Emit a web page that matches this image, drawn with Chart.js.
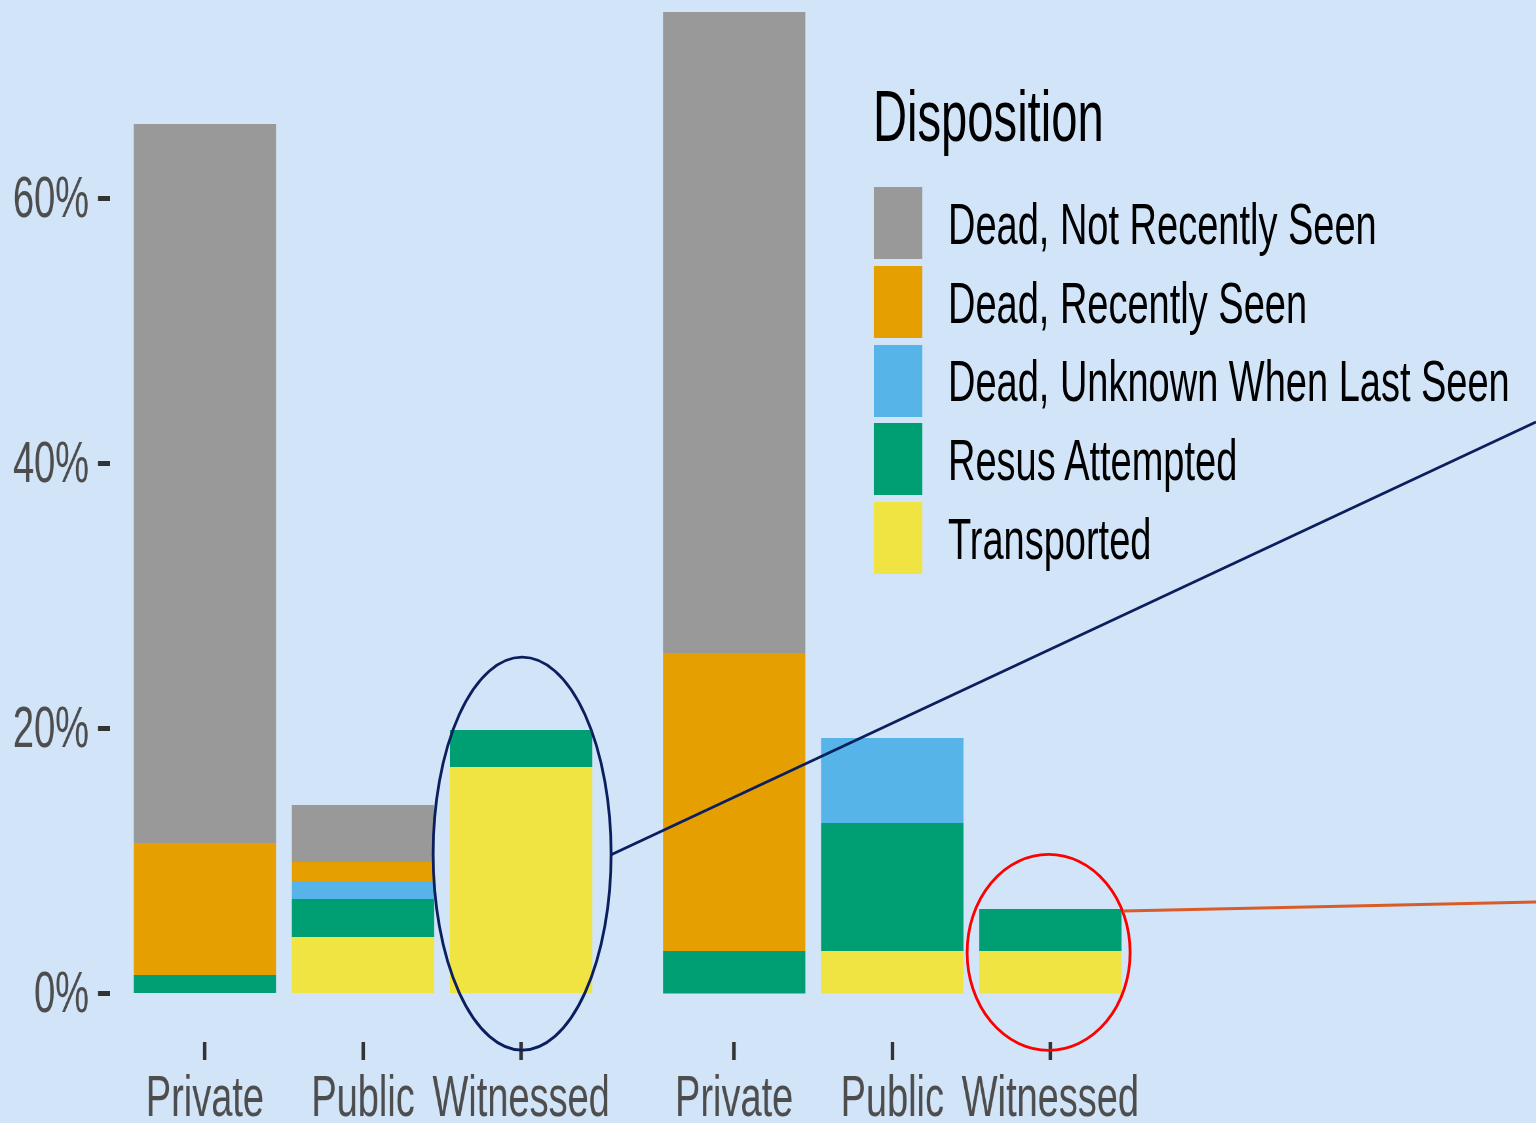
<!DOCTYPE html>
<html><head><meta charset="utf-8">
<script src="https://cdn.jsdelivr.net/npm/chart.js@4.4.1/dist/chart.umd.min.js"></script>
<style>
html,body{margin:0;padding:0;width:1536px;height:1123px;overflow:hidden;background:#d2e4f8;}
#stage{position:absolute;left:0;top:0;height:1123px;transform-origin:0 0;font-family:"Liberation Sans",Arial,Helvetica,sans-serif;}
.wrap{position:absolute;top:0;}
.wrap canvas{display:block;}
#legend div{position:absolute;white-space:nowrap;}
#overlay{position:absolute;left:0;top:0;pointer-events:none;}
</style></head>
<body>
<div id="stage">
  <div class="wrap" id="w1"><canvas id="c1"></canvas></div>
  <div class="wrap" id="w2"><canvas id="c2"></canvas></div>
  <div id="legend"></div>
</div>
<canvas id="overlay" width="1536" height="1123"></canvas>
<script>
// ---------- DATA ----------
const categories = ['Private', 'Public', 'Witnessed'];
const seriesNames = ['Dead, Not Recently Seen', 'Dead, Recently Seen', 'Dead, Unknown When Last Seen', 'Resus Attempted', 'Transported'];
const seriesColors = ['#999999', '#E69F00', '#56B4E9', '#009E73', '#F0E442'];
const legendTitle = 'Disposition';
const yTicks = [0, 20, 40, 60];

// left panel (percent of each bar segment)
const notRecentA   = [54.26, 4.31, 0];
const recentA      = [9.96, 1.43, 0];
const unknownA     = [0, 1.36, 0];
const resusA       = [1.40, 2.87, 2.80];
const transportedA = [0, 4.26, 17.09];

// right panel
const notRecentB   = [48.38, 0, 0];
const recentB      = [22.49, 0, 0];
const unknownB     = [0, 6.41, 0];
const resusB       = [3.21, 9.66, 3.17];
const transportedB = [0, 3.21, 3.21];

// ---------- LAYOUT ----------
const S = 0.655;                 // horizontal condensing of the picture
const X = px => px / S;          // real px -> stage px
const FONT = '"Liberation Sans", Arial, Helvetica, sans-serif';
const PAGE_H = 1123;
const PANEL_BOTTOM = 1042;
const ZERO_Y = 993.5, PX_PER_PCT = 13.25;
const yMin = -(PANEL_BOTTOM - ZERO_Y) / PX_PER_PCT;
const yMax = ZERO_Y / PX_PER_PCT;
const TICK_FONT = 58;

const stage = document.getElementById('stage');
stage.style.width = X(1536) + 'px';
stage.style.transform = 'scaleX(' + S + ')';

function buildDatasets(panel) {
  // stack from bottom: Transported, Resus, Unknown, Recent, NotRecent
  return [4, 3, 2, 1, 0].map(k => ({
    label: seriesNames[k],
    data: panel[k].map((v, i) => ({ x: i, y: v })),
    backgroundColor: seriesColors[k],
    borderWidth: 0
  }));
}

function makeChart(canvasId, wrapId, wrapLeft, areaLeft, areaRight, showY, panel) {
  const wrap = document.getElementById(wrapId);
  const canvas = document.getElementById(canvasId);
  const w = Math.ceil(areaRight - wrapLeft + 14);
  wrap.style.left = wrapLeft + 'px';
  canvas.width = w; canvas.height = PAGE_H;
  canvas.style.width = w + 'px'; canvas.style.height = PAGE_H + 'px';
  const yAxisW = areaLeft - wrapLeft;
  return new Chart(canvas, {
    type: 'bar',
    data: { datasets: buildDatasets(panel) },
    options: {
      responsive: false, animation: false, devicePixelRatio: 1,
      layout: { padding: { left: 0, right: w - (areaRight - wrapLeft), top: 0, bottom: 0 } },
      plugins: { legend: { display: false }, tooltip: { enabled: false } },
      datasets: { bar: { categoryPercentage: 1, barPercentage: 0.9 } },
      scales: {
        x: {
          type: 'linear', stacked: true, min: -0.6, max: 2.6, offset: false,
          afterBuildTicks: s => { s.ticks = categories.map((_, i) => ({ value: i })); },
          afterFit: s => { s.height = PAGE_H - PANEL_BOTTOM; s.paddingLeft = 0; s.paddingRight = 0; },
          ticks: {
            autoSkip: false, maxRotation: 0, minRotation: 0,
            callback: v => categories[v],
            color: '#4d4d4d', font: { family: FONT, size: TICK_FONT }, padding: 5
          },
          grid: { display: true, offset: false, drawOnChartArea: false, drawTicks: true,
                  tickLength: 18, tickWidth: X(3.5), tickColor: '#333333', color: 'rgba(0,0,0,0)' },
          border: { display: false }
        },
        y: {
          type: 'linear', stacked: true, min: yMin, max: yMax, display: showY,
          afterBuildTicks: s => { s.ticks = yTicks.map(v => ({ value: v })); },
          afterFit: s => { if (showY) s.width = yAxisW; s.paddingTop = 0; s.paddingBottom = 0; },
          ticks: {
            callback: v => v + '%', labelOffset: 2,
            color: '#4d4d4d', font: { family: FONT, size: TICK_FONT }, padding: X(9)
          },
          grid: { display: true, drawOnChartArea: false, drawTicks: true,
                  tickLength: X(12), tickWidth: 5, tickColor: '#333333', color: 'rgba(0,0,0,0)' },
          border: { display: false }
        }
      }
    }
  });
}

const panelA = [notRecentA, recentA, unknownA, resusA, transportedA];
const panelB = [notRecentB, recentB, unknownB, resusB, transportedB];

const w1Left = 0, w2Left = X(639);
const chartA = makeChart('c1', 'w1', w1Left, X(110), X(616), true, panelA);
const chartB = makeChart('c2', 'w2', w2Left, X(639), X(1145), false, panelB);

// ---------- LEGEND (html) ----------
const legend = document.getElementById('legend');
const t = document.createElement('div');
t.textContent = legendTitle;
Object.assign(t.style, { left: X(873) + 'px', top: '80px', fontSize: '72px', lineHeight: '72px', color: '#000' });
legend.appendChild(t);
seriesNames.forEach((name, i) => {
  const key = document.createElement('div');
  Object.assign(key.style, { left: X(874) + 'px', top: (187 + i * 78.75) + 'px', width: X(48) + 'px', height: '72px', background: seriesColors[i] });
  legend.appendChild(key);
  const lab = document.createElement('div');
  lab.textContent = name;
  Object.assign(lab.style, { left: X(948) + 'px', top: (194.9 + i * 78.75) + 'px', fontSize: '58px', lineHeight: '58px', color: '#000' });
  legend.appendChild(lab);
});

// ---------- ANNOTATIONS (overlay, real px) ----------
const ov = document.getElementById('overlay').getContext('2d');
const realX = (chart, wrapLeft, v) => (wrapLeft + chart.scales.x.getPixelForValue(v)) * S;
function ellipse(cx, cy, rx, ry, color, lw) {
  ov.beginPath(); ov.ellipse(cx, cy, rx, ry, 0, 0, Math.PI * 2);
  ov.strokeStyle = color; ov.lineWidth = lw; ov.stroke();
}
function line(x1, y1, x2, y2, color, lw) {
  ov.beginPath(); ov.moveTo(x1, y1); ov.lineTo(x2, y2);
  ov.strokeStyle = color; ov.lineWidth = lw; ov.stroke();
}
const e1x = realX(chartA, w1Left, 2), e1y = chartA.scales.y.getPixelForValue(10.55);
ellipse(e1x + 1, e1y, 89, 196.5, '#0b1f5e', 2.8);
line(e1x + 90, e1y + 1, 1536, 422, '#0b1f5e', 2.7);
const e2x = realX(chartB, w2Left, 2), e2y = chartB.scales.y.getPixelForValue(3.1);
ellipse(e2x - 1.5, e2y, 81.5, 98, '#ff0000', 2.8);
line(1123, 911, 1536, 902, '#d95b27', 2.8);
</script>
</body></html>
